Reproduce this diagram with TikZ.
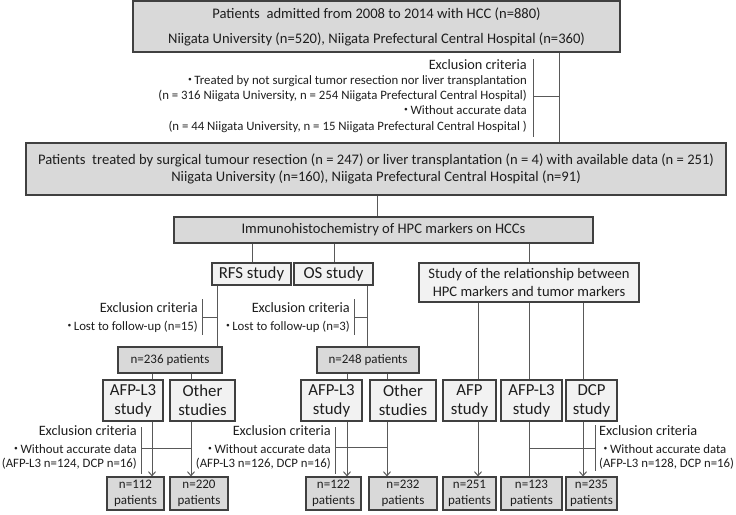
\documentclass[tikz,border=0pt]{standalone}
\usepackage{fontspec}
\setmainfont{Carlito}
\newfontfamily\cjk{Noto Sans CJK JP}
\usetikzlibrary{arrows.meta}
\definecolor{dkc}{HTML}{D9D9D9}
\definecolor{ltc}{HTML}{F2F2F2}
\definecolor{bordc}{HTML}{404040}
\definecolor{linec}{HTML}{595959}
\definecolor{txtc}{HTML}{1E1E1E}
\newcommand\mydot{{\cjk ・}\kern-2pt}
\tikzset{
  box/.style={draw=bordc, line width=1.1pt, inner sep=0pt, align=center, text=txtc},
  dkbox/.style={box, fill=dkc},
  ltbox/.style={box, fill=ltc},
  conn/.style={draw=linec, line width=1pt},
  arr/.style={conn, -{Straight Barb[length=4pt,width=7pt]}},
  lblr/.style={inner sep=0pt, text=txtc, anchor=mid east},
  lbll/.style={inner sep=0pt, text=txtc, anchor=mid west},
  big/.style={font=\fontsize{14.3}{16}\selectfont},
  small/.style={font=\fontsize{12.8}{15}\selectfont},
  studyfont/.style={font=\fontsize{16.8}{19}\selectfont},
  nfont/.style={font=\fontsize{13}{16}\selectfont}
}
\begin{document}
\begin{tikzpicture}[x=1pt,y=-1pt]
\useasboundingbox (0,0) rectangle (736,514);

% top boxes
\node[dkbox, minimum width=487pt, minimum height=51pt, font=\fontsize{14.6}{25}\selectfont] (top) at (376.5,26.5)
  {Patients\ \ admitted from 2008 to 2014 with HCC (n=880)\\Niigata University (n=520), Niigata Prefectural Central Hospital (n=360)};
\node[dkbox, minimum width=700pt, minimum height=52pt, font=\fontsize{14.6}{17}\selectfont] (sel) at (376,169)
  {Patients\ \ treated by surgical tumour resection (n = 247) or liver transplantation (n = 4) with available data (n = 251)\\Niigata University (n=160), Niigata Prefectural Central Hospital (n=91)};

% first exclusion
\node[lblr, big] (ex1a) at (527,67) {Exclusion criteria};
\node[lblr, small] (ex1b) at (527,82) {\mydot Treated by not surgical tumor resection nor liver transplantation};
\node[lblr, small] (ex1c) at (527,97) {(n = 316 Niigata University, n = 254 Niigata Prefectural Central Hospital)};
\node[lblr, small] (ex1d) at (527,112) {\mydot Without accurate data};
\node[lblr, small] (ex1e) at (527,128) {(n = 44 Niigata University, n = 15 Niigata Prefectural Central Hospital )};
\coordinate (b1t) at (533,59);
\coordinate (b1b) at (533,137);
\coordinate (b1m) at (533,96);
\draw[conn] (b1t) -- (b1b);
\draw[conn] (top.south -| 559,0) -- (sel.north -| 559,0);
\draw[conn] (b1m) -- (b1m -| 559,0);

% IHC
\node[dkbox, minimum width=419pt, minimum height=26pt, font=\fontsize{14.6}{17}\selectfont] (ihc) at (383.5,230)
  {Immunohistochemistry of HPC markers on HCCs};
\draw[conn] (sel.south -| 377,0) -- (ihc.north -| 377,0);

% studies
\node[ltbox, studyfont, minimum width=79pt, minimum height=22pt] (rfs) at (251.5,274) {RFS study};
\node[ltbox, studyfont, minimum width=79pt, minimum height=22pt] (os) at (333.5,274) {OS study};
\node[ltbox, minimum width=220pt, minimum height=39pt, font=\fontsize{14.6}{18}\selectfont] (rel) at (529,282.5)
  {Study of the relationship between\\HPC markers and tumor markers};
\draw[conn] (ihc.south -| 252,0) -- (rfs.north -| 252,0);
\draw[conn] (ihc.south -| 334,0) -- (os.north -| 334,0);
\draw[conn] (ihc.south -| 529,0) -- (rel.north -| 529,0);

% n=236 / n=248
\node[dkbox, nfont, minimum width=104pt, minimum height=26pt] (n236) at (170,360) {n=236 patients};
\node[dkbox, nfont, minimum width=102pt, minimum height=26pt] (n248) at (368,360) {n=248 patients};
\draw[conn] (rfs.south -| 217,0) -- (n236.north -| 217,0);
\draw[conn] (os.south -| 367,0) -- (n248.north -| 367,0);

% RFS / OS exclusions
\node[lblr, big] (ex2a) at (198,310) {Exclusion criteria};
\node[lblr, small] (ex2b) at (198,328) {\mydot Lost to follow-up (n=15)};
\coordinate (b2t) at (202,299);
\coordinate (b2b) at (202,335);
\coordinate (b2m) at (202,317);
\draw[conn] (b2t) -- (b2b);
\draw[conn] (b2m) -- (b2m -| 217,0);
\node[lblr, big] (ex3a) at (350,310) {Exclusion criteria};
\node[lblr, small] (ex3b) at (350,328) {\mydot Lost to follow-up (n=3)};
\coordinate (b3t) at (354,299);
\coordinate (b3b) at (354,335);
\coordinate (b3m) at (354,317);
\draw[conn] (b3t) -- (b3b);
\draw[conn] (b3m) -- (b3m -| 367,0);

% study row
\node[ltbox, studyfont, minimum width=60pt, minimum height=41pt] (rfsl3) at (133,400.5) {AFP-L3\\study};
\node[ltbox, studyfont, minimum width=65pt, minimum height=41pt] (rfsoth) at (202.5,400.5) {Other\\studies};
\node[ltbox, studyfont, minimum width=61pt, minimum height=41pt] (osl3) at (331.5,400.5) {AFP-L3\\study};
\node[ltbox, studyfont, minimum width=66pt, minimum height=41pt] (osoth) at (403,400.5) {Other\\studies};
\node[ltbox, studyfont, minimum width=53pt, minimum height=41pt] (afp) at (469.5,400.5) {AFP\\study};
\node[ltbox, studyfont, minimum width=61pt, minimum height=41pt] (trl3) at (531.5,400.5) {AFP-L3\\study};
\node[ltbox, studyfont, minimum width=51pt, minimum height=41pt] (dcp) at (591.5,400.5) {DCP\\study};
\draw[conn] (n236.south -| 152,0) -- (rfsl3.north -| 152,0);
\draw[conn] (n236.south -| 191,0) -- (rfsoth.north -| 191,0);
\draw[conn] (n248.south -| 347,0) -- (osl3.north -| 347,0);
\draw[conn] (n248.south -| 387,0) -- (osoth.north -| 387,0);
\draw[conn] (rel.south -| 478,0) -- (afp.north -| 478,0);
\draw[conn] (rel.south -| 529,0) -- (trl3.north -| 529,0);
\draw[conn] (rel.south -| 583,0) -- (dcp.north -| 583,0);

% bottom row
\node[dkbox, nfont, minimum width=57pt, minimum height=33pt] (b112) at (135.5,493.5) {n=112\\patients};
\node[dkbox, nfont, minimum width=58pt, minimum height=33pt] (b220) at (199,493.5) {n=220\\patients};
\node[dkbox, nfont, minimum width=55pt, minimum height=33pt] (b122) at (333.5,493.5) {n=122\\patients};
\node[dkbox, nfont, minimum width=68pt, minimum height=33pt] (b232) at (403,493.5) {n=232\\patients};
\node[dkbox, nfont, minimum width=53pt, minimum height=33pt] (b251) at (469.5,493.5) {n=251\\patients};
\node[dkbox, nfont, minimum width=61pt, minimum height=33pt] (b123) at (531.5,493.5) {n=123\\patients};
\node[dkbox, nfont, minimum width=51pt, minimum height=33pt] (b235) at (591.5,493.5) {n=235\\patients};
\draw[arr] (rfsl3.south -| 152,0) -- (b112.north -| 152,0);
\draw[arr] (rfsoth.south -| 191,0) -- (b220.north -| 191,0);
\draw[arr] (osl3.south -| 347,0) -- (b122.north -| 347,0);
\draw[arr] (osoth.south -| 387,0) -- (b232.north -| 387,0);
\draw[arr] (afp.south -| 478,0) -- (b251.north -| 478,0);
\draw[conn] (trl3.south -| 529,0) -- (b123.north -| 529,0);
\draw[arr] (dcp.south -| 583,0) -- (b235.north -| 583,0);

% bottom exclusions
\node[lblr, big] (ex4a) at (137,433) {Exclusion criteria};
\node[lblr, small] (ex4b) at (137,451) {\mydot Without accurate data};
\node[lblr, small] (ex4c) at (137,465) {(AFP-L3 n=124, DCP n=16)};
\coordinate (b4t) at (141,427);
\coordinate (b4b) at (141,474);
\coordinate (b4m) at (141,448);
\draw[conn] (b4t) -- (b4b);
\draw[conn] (b4m) -- (b4m -| 191,0);

\node[lblr, big] (ex5a) at (331,433) {Exclusion criteria};
\node[lblr, small] (ex5b) at (331,451) {\mydot Without accurate data};
\node[lblr, small] (ex5c) at (331,465) {(AFP-L3 n=126, DCP n=16)};
\coordinate (b5t) at (335,427);
\coordinate (b5b) at (335,474);
\coordinate (b5m) at (335,447);
\draw[conn] (b5t) -- (b5b);
\draw[conn] (b5m) -- (b5m -| 387,0);

\node[lbll, big] (ex6a) at (599,433) {Exclusion criteria};
\node[lbll, small] (ex6b) at (599,451) {\mydot Without accurate data};
\node[lbll, small] (ex6c) at (599,465) {(AFP-L3 n=128, DCP n=16)};
\coordinate (b6t) at (595,425);
\coordinate (b6b) at (595,471);
\coordinate (b6m) at (595,448);
\draw[conn] (b6t) -- (b6b);
\draw[conn] (b6m) -- (b6m -| 529,0);
\end{tikzpicture}
\end{document}
